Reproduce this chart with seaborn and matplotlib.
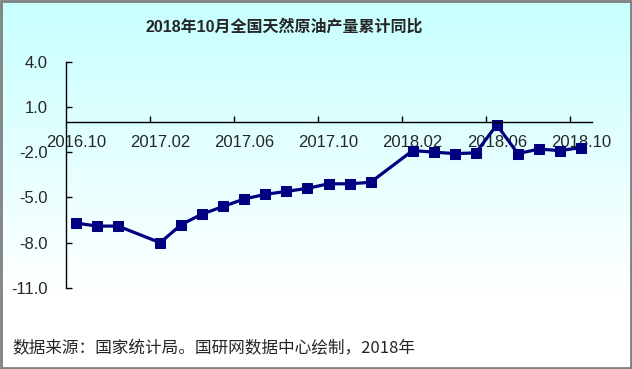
import numpy as np
import pandas as pd
import matplotlib
matplotlib.use("Agg")
import matplotlib.pyplot as plt
import seaborn as sns
from matplotlib.patches import Rectangle

months = ["2016.10", "2016.11", "2016.12", "2017.01", "2017.02", "2017.03", "2017.04",
          "2017.05", "2017.06", "2017.07", "2017.08", "2017.09", "2017.10", "2017.11",
          "2017.12", "2018.01", "2018.02", "2018.03", "2018.04", "2018.05", "2018.06",
          "2018.07", "2018.08", "2018.09", "2018.10"]
values = [-6.7, -6.9, -6.9, np.nan, -8.0, -6.8, -6.1,
          -5.6, -5.1, -4.8, -4.6, -4.4, -4.1, -4.1,
          -4.0, np.nan, -1.9, -2.0, -2.1, -2.05, -0.2,
          -2.1, -1.8, -1.9, -1.7]
label_months = ["2016.10", "2017.02", "2017.06", "2017.10", "2018.02", "2018.06", "2018.10"]
y_ticks = [4.0, 1.0, -2.0, -5.0, -8.0, -11.0]
title = "2018年10月全国天然原油产量累计同比"
source = "数据来源：国家统计局。国研网数据中心绘制，2018年"

sns.set_style("white")
plt.rcParams["font.family"] = ["Liberation Sans", "Noto Sans CJK SC", "DejaVu Sans"]
plt.rcParams["axes.unicode_minus"] = False

df = pd.DataFrame({"month": months, "value": values})
df["pos"] = np.arange(len(months))
df = df.dropna()

fig = plt.figure(figsize=(6.32, 3.69), dpi=100)

# background gradient
bg = fig.add_axes([0, 0, 1, 1], zorder=-10)
grad = np.linspace(0, 1, 256).reshape(-1, 1)
top = np.array([0.78, 1.0, 1.0])
bot = np.array([1.0, 1.0, 1.0])
t = np.clip(grad / 0.8, 0, 1)
img = top[None, None, :] * (1 - t[..., None]) + bot[None, None, :] * t[..., None]
bg.imshow(img, aspect="auto", extent=[0, 1, 0, 1], origin="upper")
bg.set_axis_off()

ax = fig.add_axes([65.5 / 632, 81 / 369, 526 / 632, 226.5 / 369])
ax.patch.set_alpha(0)

sns.lineplot(data=df, x="pos", y="value", ax=ax, color="#000080", linewidth=2.3,
             marker="s", markersize=6.5, markeredgecolor="#000080", markerfacecolor="#000080")

ax.set_xlim(-0.5, len(months) - 0.5)
ax.set_ylim(-11, 4)
ax.set_xlabel("")
ax.set_ylabel("")

for s in ["top", "right"]:
    ax.spines[s].set_visible(False)
ax.spines["bottom"].set_position(("data", 0))
ax.spines["bottom"].set_color("black")
ax.spines["left"].set_color("black")
ax.spines["bottom"].set_linewidth(1)
ax.spines["left"].set_linewidth(1)

ax.set_yticks(y_ticks)
ax.set_yticklabels([f"{v:.1f}" for v in y_ticks])
ax.tick_params(axis="y", direction="in", length=4, width=1, pad=13, labelsize=12,
               left=True, color="black")

label_pos = [months.index(m) for m in label_months]
ax.set_xticks([p - 0.5 for p in label_pos[1:]])
ax.set_xticklabels([])
ax.set_xticks(label_pos, minor=True)
ax.set_xticklabels(label_months, minor=True)
ax.tick_params(axis="x", which="major", direction="in", length=4, width=1, bottom=True, color="black")
ax.tick_params(axis="x", which="minor", length=0, pad=9.5, labelsize=12, bottom=True)

fig.text(284 / 632, 1 - 27 / 369, title, ha="center", va="center", fontsize=11.5,
         fontweight="bold", family=["Liberation Sans", "Noto Sans CJK SC"])
fig.text(12 / 632, 1 - 349 / 369, source, ha="left", va="center", fontsize=12,
         family=["Noto Sans CJK SC", "DejaVu Sans"])

fig.add_artist(Rectangle((0.001, 0.002), 0.997, 0.995, transform=fig.transFigure,
                         fill=False, edgecolor="#808080", linewidth=2))

fig.savefig("out.png", dpi=100)
